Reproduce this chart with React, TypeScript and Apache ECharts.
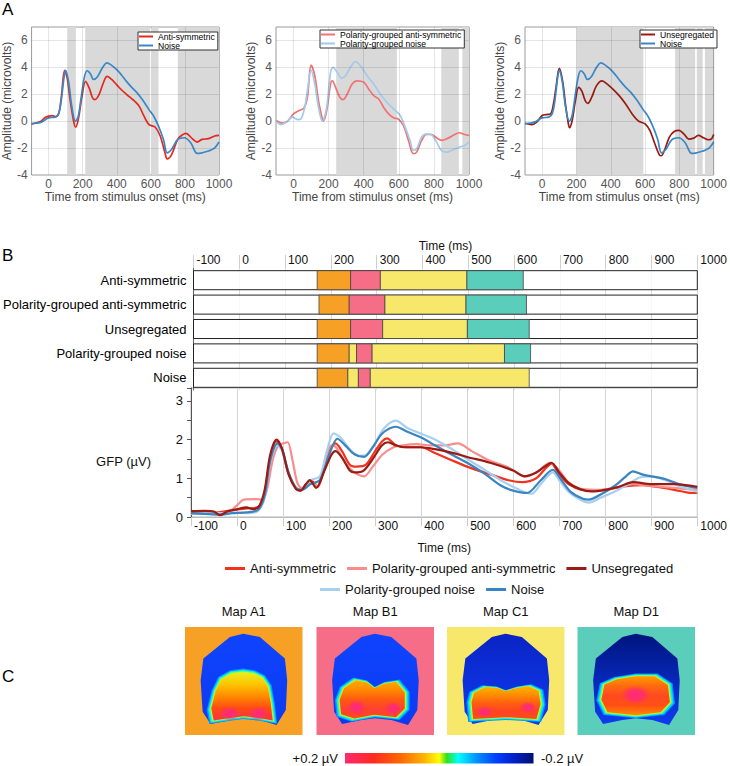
import React, { useEffect, useRef } from 'react';
import * as echarts from 'echarts';

const FONT = '"Liberation Sans", Arial, Helvetica, sans-serif';

// ---------- Panel A : ERP waveforms [time (ms), amplitude (µV)] ----------
const ERP_ANTI = [[-100,-0.2],[-70,-0.12],[-45,0.0],[-20,0.28],[0,0.37],[23,0.42],[41,0.32],[60,0.6],[75,1.85],[94,3.78],[109,3.2],[126,1.6],[145,0.12],[158,-0.44],[174,0.12],[196,1.85],[217,2.96],[240,2.4],[258,1.73],[272,1.6],[296,1.97],[321,2.84],[343,3.33],[370,3.1],[400,2.7],[430,2.3],[457,2.0],[485,1.7],[504,1.5],[532,1.1],[560,0.37],[589,-0.25],[626,-0.45],[655,-1.1],[683,-2.35],[696,-2.8],[721,-2.5],[758,-1.35],[787,-1.0],[806,-0.9],[843,-1.3],[872,-1.55],[900,-1.35],[938,-1.3],[975,-1.1],[1000,-1.05]];
const ERP_NOISE = [[-100,-0.2],[-70,-0.15],[-40,-0.05],[-15,0.15],[0,0.25],[41,0.32],[60,0.6],[75,1.6],[89,3.1],[100,3.78],[117,2.96],[136,1.1],[158,0.0],[174,0.37],[192,1.85],[211,3.33],[226,3.75],[245,3.53],[264,3.1],[287,3.3],[315,3.95],[343,4.33],[370,4.15],[400,3.83],[430,3.4],[457,2.96],[485,2.55],[513,2.2],[551,1.6],[589,0.86],[617,0.37],[645,-0.37],[674,-1.36],[696,-2.35],[721,-2.1],[758,-1.36],[796,-1.23],[834,-1.6],[872,-2.4],[900,-2.35],[938,-2.22],[975,-1.98],[1000,-1.55]];
const ERP_POL_ANTI = [[-100,0.05],[-62,-0.15],[-34,0.0],[0,0.54],[32,0.79],[60,0.99],[79,1.78],[100,4.17],[121,3.38],[142,1.53],[164,0.17],[170,0.0],[189,0.79],[211,2.77],[221,3.0],[240,2.5],[264,1.78],[283,1.6],[306,2.02],[334,2.77],[362,3.0],[400,2.9],[428,2.4],[457,1.9],[485,1.65],[513,1.04],[542,0.54],[570,0.25],[598,0.15],[626,-0.32],[655,-1.43],[683,-2.42],[702,-2.3],[730,-1.43],[758,-0.99],[787,-0.99],[815,-1.23],[843,-1.43],[881,-1.26],[919,-0.99],[947,-0.86],[975,-0.99],[1000,-1.06]];
const ERP_POL_NOISE = [[-100,0.0],[-72,-0.25],[-34,0.0],[-6,0.3],[23,0.12],[42,0.17],[64,1.04],[79,2.27],[100,3.8],[121,2.77],[142,1.04],[164,0.0],[189,1.04],[211,3.63],[226,4.0],[249,3.63],[274,3.2],[296,3.38],[325,4.0],[353,4.42],[381,4.12],[419,3.38],[457,2.77],[494,2.02],[532,1.41],[570,0.91],[608,0.42],[636,-0.44],[664,-1.43],[683,-2.17],[702,-2.05],[730,-1.19],[758,-0.94],[787,-1.01],[815,-1.56],[843,-2.17],[872,-2.3],[909,-2.12],[947,-1.93],[975,-1.8],[1000,-1.56]];
const ERP_UNSEG = [[-100,-0.15],[-60,-0.25],[-32,-0.07],[0,0.42],[25,0.49],[49,0.54],[66,1.28],[81,2.52],[100,3.93],[119,3.0],[138,1.04],[153,-0.2],[160,-0.49],[175,0.05],[194,1.53],[213,2.52],[232,2.22],[251,1.53],[266,1.33],[289,1.78],[317,2.64],[349,3.0],[383,2.72],[411,2.4],[449,1.9],[487,1.28],[525,0.54],[562,0.0],[600,-0.2],[628,-0.69],[657,-1.68],[685,-2.54],[694,-2.57],[713,-2.17],[742,-1.19],[770,-0.77],[798,-0.69],[826,-0.94],[855,-1.33],[883,-1.26],[911,-1.06],[940,-1.23],[968,-1.38],[987,-1.31],[1000,-0.99]];

// significant-difference windows (ms)
const SHADE_1 = [[109,160],[215,596],[605,645],[758,1000]];
const SHADE_2 = [[243,589],[842,942],[962,1000]];
const SHADE_3 = [[200,590],[775,892],[902,936],[949,998]];

const A_XGRID = [0,200,400,600,800,1000];
const A_YGRID = [-2,0,2,4,6];

// ---------- Panel B : microstate segments [start ms, end ms, map index] ----------
const CONDITIONS = ['Anti-symmetric','Polarity-grouped anti-symmetric','Unsegregated','Polarity-grouped noise','Noise'];
const SEG_ANTI = [[170,243,0],[243,308,1],[308,497,2],[497,620,3]];
const SEG_POL_ANTI = [[174,240,0],[240,318,1],[318,495,2],[495,627,3]];
const SEG_UNSEG = [[170,243,0],[243,313,1],[313,498,2],[498,633,3]];
const SEG_POL_NOISE = [[170,240,0],[240,256,2],[256,290,1],[290,579,2],[579,636,3]];
const SEG_NOISE = [[170,237,0],[237,260,2],[260,286,1],[286,633,2]];
const SEGMENTS = [SEG_ANTI, SEG_POL_ANTI, SEG_UNSEG, SEG_POL_NOISE, SEG_NOISE];

// ---------- Panel B : GFP [time (ms), µV] ----------
const GFP_ANTI = [[-100,0.12],[-70,0.1],[-40,0.12],[-10,0.18],[20,0.22],[45,0.25],[60,0.6],[72,1.5],[85,1.95],[95,1.85],[110,1.2],[125,0.8],[137,0.68],[150,0.85],[160,0.95],[175,0.78],[190,1.3],[205,1.8],[214,1.9],[228,1.7],[245,1.35],[260,1.3],[280,1.35],[300,1.7],[315,1.95],[326,2.03],[345,1.85],[370,1.8],[400,1.8],[430,1.65],[460,1.5],[500,1.3],[550,1.1],[590,0.95],[620,0.9],[650,1.0],[670,1.25],[683,1.38],[700,1.1],[720,0.85],[750,0.7],[780,0.68],[810,0.72],[850,0.8],[880,0.82],[910,0.78],[950,0.7],[980,0.63],[1000,0.62]];
const GFP_POL_ANTI = [[-100,0.1],[-60,0.08],[-20,0.12],[0,0.3],[15,0.45],[40,0.46],[55,0.45],[65,0.7],[78,1.5],[90,1.85],[100,1.9],[110,1.93],[120,1.5],[132,0.85],[145,0.72],[160,0.9],[175,0.8],[190,1.4],[205,1.85],[215,1.8],[235,1.4],[255,1.15],[276,1.05],[295,1.3],[315,1.6],[340,1.8],[360,1.85],[390,1.88],[420,1.85],[450,1.85],[480,1.9],[510,1.7],[550,1.45],[590,1.28],[625,1.05],[650,1.15],[680,1.4],[700,1.2],[720,0.9],[750,0.72],[790,0.7],[830,0.78],[860,0.85],[900,0.8],[950,0.75],[1000,0.7]];
const GFP_UNSEG = [[-100,0.15],[-70,0.16],[-50,0.14],[-37,0.05],[-20,0.15],[0,0.2],[20,0.25],[35,0.2],[48,0.28],[60,0.7],[72,1.6],[86,2.0],[98,1.75],[112,1.1],[128,0.72],[138,0.68],[150,0.85],[158,0.95],[172,0.75],[190,1.2],[205,1.6],[214,1.7],[230,1.5],[245,1.2],[256,1.15],[275,1.2],[295,1.5],[315,1.85],[328,1.93],[345,1.85],[365,1.8],[400,1.8],[430,1.75],[470,1.65],[500,1.55],[550,1.4],[600,1.2],[625,1.05],[650,1.15],[668,1.3],[683,1.4],[700,1.15],[720,0.88],[745,0.72],[770,0.66],[800,0.7],[830,0.78],[860,0.9],[900,0.85],[950,0.85],[1000,0.78]];
const GFP_POL_NOISE = [[-100,0.08],[-70,0.1],[-40,0.1],[-10,0.12],[20,0.1],[45,0.15],[60,0.5],[72,1.4],[88,1.85],[98,1.7],[112,1.1],[128,0.75],[140,0.72],[160,0.95],[180,1.05],[195,1.7],[210,2.16],[225,2.05],[245,1.75],[265,1.58],[280,1.6],[300,1.9],[320,2.3],[345,2.49],[370,2.3],[400,2.15],[430,2.0],[460,1.8],[500,1.5],[540,1.2],[580,0.9],[610,0.72],[640,0.6],[660,0.85],[686,1.15],[700,0.95],[720,0.65],[745,0.45],[765,0.37],[790,0.5],[820,0.65],[850,0.85],[875,1.02],[900,1.05],[930,0.95],[960,0.8],[1000,0.65]];
const GFP_NOISE = [[-100,0.1],[-70,0.08],[-40,0.06],[-10,0.1],[20,0.12],[45,0.18],[60,0.55],[72,1.45],[88,1.9],[98,1.75],[112,1.15],[128,0.75],[140,0.7],[160,0.85],[180,0.95],[200,1.6],[218,2.02],[235,1.85],[255,1.62],[276,1.55],[295,1.8],[315,2.15],[345,2.33],[370,2.2],[400,2.05],[430,1.85],[460,1.65],[500,1.4],[540,1.1],[575,0.8],[600,0.68],[630,0.62],[660,0.95],[686,1.22],[705,0.95],[725,0.65],[750,0.48],[765,0.45],[790,0.58],[820,0.8],[845,1.05],[860,1.18],[880,1.1],[900,1.05],[930,0.98],[960,0.85],[1000,0.75]];

// ---------- Panel C : maps ----------
const MAP_NAMES = ['Map A1','Map B1','Map C1','Map D1'];
const MAP_COLORS = ['#f6a126','#f66d87','#f7e86c','#5bcdbb'];
const COLORBAR_LABELS = ['+0.2 µV','-0.2 µV'];

const C_A = { anti:'#e3281e', noise:'#3a88c6', polAnti:'#ef7373', polNoise:'#a3caeb', unseg:'#981a12' };
const C_G = { anti:'#f0321e', polAnti:'#f78d8d', unseg:'#9a1b12', polNoise:'#a9cfee', noise:'#3a84c1' };

// head outline & topography shapes (normalised to map square)
const HEAD = [[0.382,0.092],[0.496,0.062],[0.637,0.092],[0.850,0.292],[0.870,0.492],[0.858,0.769],[0.779,0.908],[0.637,0.862],[0.496,0.846],[0.382,0.862],[0.218,0.898],[0.150,0.785],[0.133,0.492],[0.156,0.292]];
const WARM = [
  [[0.207,0.898],[0.184,0.769],[0.227,0.585],[0.283,0.462],[0.382,0.40],[0.496,0.385],[0.595,0.40],[0.680,0.446],[0.737,0.538],[0.765,0.708],[0.785,0.898],[0.637,0.868],[0.496,0.852],[0.382,0.868]],
  [[0.170,0.831],[0.156,0.677],[0.198,0.554],[0.312,0.468],[0.425,0.492],[0.496,0.554],[0.581,0.508],[0.708,0.486],[0.793,0.600],[0.793,0.769],[0.708,0.862],[0.496,0.837],[0.297,0.877]],
  [[0.18,0.88],[0.165,0.70],[0.19,0.60],[0.30,0.54],[0.42,0.55],[0.50,0.585],[0.60,0.55],[0.72,0.53],[0.82,0.58],[0.84,0.72],[0.80,0.88],[0.50,0.86]],
  [[0.22,0.815],[0.16,0.68],[0.19,0.52],[0.312,0.462],[0.495,0.43],[0.682,0.43],[0.81,0.523],[0.83,0.708],[0.74,0.815],[0.495,0.846]],
];
const SPOTS = [
  [[0.382,0.80,0.09,0.065],[0.623,0.80,0.09,0.065]],
  [[0.34,0.745,0.085,0.075],[0.652,0.754,0.075,0.065]],
  [[0.32,0.785,0.075,0.055],[0.688,0.745,0.075,0.055]],
  [[0.495,0.63,0.13,0.09]],
];
const HEAD_GRAD = [
  ['#0f44ff','#0c3af0'],
  ['#0f44ff','#0c3af0'],
  ['#0a24c4','#0e3cf0'],
  ['#00147e','#0e3cf0'],
];
const WARM_GRAD = [
  ['#e6f01e','#ffc400','#ff8a00','#ff4a14','#ff3048'],
  ['#ffae00','#ff8a00','#ff5a12','#ff4030','#ff4a20'],
  ['#ffb400','#ff9000','#ff6210','#ff4420','#ff4a20'],
  ['#ff9c00','#ff6a10','#ff4a20','#ff5014','#ff8c00'],
];

const MAP_X = [185, 316.5, 447, 577.5];
const MAP_Y = 627;
const MAP_W = 117.5;
const MAP_H = 108;

function toAbs(pts: number[][], i: number) {
  return pts.map(([u, v]) => [MAP_X[i] + u * MAP_W, MAP_Y + v * MAP_H]);
}
function shrink(pts: number[][], s: number) {
  const cx = pts.reduce((a, p) => a + p[0], 0) / pts.length;
  const cy = pts.reduce((a, p) => a + p[1], 0) / pts.length;
  return pts.map(([x, y]) => [cx + (x - cx) * s, cy + (y - cy) * s]);
}

function mapElements(i: number) {
  const els: any[] = [];
  els.push({ type: 'rect', shape: { x: MAP_X[i], y: MAP_Y, width: MAP_W, height: MAP_H }, style: { fill: MAP_COLORS[i] } });
  els.push({ type: 'polygon', shape: { points: toAbs(HEAD, i) }, style: { fill: new echarts.graphic.LinearGradient(0, 0, 0, 1, [{ offset: 0, color: HEAD_GRAD[i][0] }, { offset: 1, color: HEAD_GRAD[i][1] }]) } });
  const warm = toAbs(WARM[i], i);
  const rings = [[1.0, '#0a8cff'], [0.965, '#00dcff'], [0.93, '#3cff9a'], [0.9, '#c8f51e']];
  rings.forEach(([s, c]) => els.push({ type: 'polygon', shape: { points: shrink(warm, s as number) }, style: { fill: c } }));
  const g = WARM_GRAD[i];
  els.push({ type: 'polygon', shape: { points: shrink(warm, 0.87) }, style: { fill: new echarts.graphic.LinearGradient(0, 0, 0, 1, g.map((c, k) => ({ offset: k / (g.length - 1), color: c }))) } });
  SPOTS[i].forEach(([u, v, rx, ry]) => els.push({ type: 'ellipse', shape: { cx: MAP_X[i] + u * MAP_W, cy: MAP_Y + v * MAP_H, rx: rx * MAP_W, ry: ry * MAP_H }, style: { fill: new echarts.graphic.RadialGradient(0.5, 0.5, 0.5, [{ offset: 0, color: 'rgba(255,40,130,1)' }, { offset: 0.55, color: 'rgba(255,45,110,0.85)' }, { offset: 1, color: 'rgba(255,60,60,0)' }]) } }));
  els.push({ type: 'text', x: MAP_X[i] + MAP_W / 2, y: 611, style: { text: MAP_NAMES[i], font: `13px ${FONT}`, fill: '#111', align: 'center', verticalAlign: 'middle' } });
  return els;
}

function buildOption() {
  const A_LEFT = [26, 276, 525];
  const A_WIDTH = [193, 193, 194];
  const grids: any[] = A_LEFT.map((l, k) => ({ left: l, top: 27, width: A_WIDTH[k], height: 148, show: true, borderColor: '#9a9a9a', borderWidth: 1 }));
  grids.push({ left: 191, top: 268, width: 508, height: 122 });
  grids.push({ left: 191, top: 388, width: 508, height: 129, show: true, borderColor: '#b5b5b5', borderWidth: 1 });

  const xAxes: any[] = [0, 1, 2].map(i => ({
    gridIndex: i, type: 'value', min: -100, max: 1000, interval: 100,
    axisLine: { show: false, onZero: false }, axisTick: { show: false }, splitLine: { show: false },
    axisLabel: { fontSize: 12, color: '#555', fontFamily: FONT, margin: 3, formatter: (v: number) => (v >= 0 && v % 200 === 0 ? String(v) : '') },
    name: 'Time from stimulus onset (ms)', nameLocation: 'middle', nameGap: 13,
    nameTextStyle: { fontSize: 12, color: '#444', fontFamily: FONT },
  }));
  const yAxes: any[] = [0, 1, 2].map(i => ({
    gridIndex: i, type: 'value', min: -4, max: 7, interval: 2,
    axisLine: { show: false, onZero: false }, axisTick: { show: false }, splitLine: { show: false },
    axisLabel: { fontSize: 12, color: '#555', fontFamily: FONT, margin: 4, formatter: (v: number) => (v > 6.5 ? '' : String(v)) },
    name: 'Amplitude (microvolts)', nameLocation: 'middle', nameGap: 14,
    nameTextStyle: { fontSize: 12, color: '#444', fontFamily: FONT },
  }));
  // bars panel
  xAxes.push({
    gridIndex: 3, type: 'value', position: 'top', min: -100, max: 1000, interval: 100,
    axisLine: { show: false, onZero: false }, axisTick: { show: true, length: 13, lineStyle: { color: '#cfcfcf' } },
    splitLine: { show: true, lineStyle: { color: '#dadada' } },
    axisLabel: { align: 'left', margin: 2, padding: [0, 0, 0, 3], fontSize: 12, color: '#111', fontFamily: FONT, formatter: (v: number) => String(v) },
    name: 'Time (ms)', nameLocation: 'middle', nameGap: 16, nameTextStyle: { fontSize: 12, color: '#111', fontFamily: FONT },
  });
  yAxes.push({
    gridIndex: 3, type: 'category', data: CONDITIONS, inverse: true,
    axisLine: { show: true, onZero: false, lineStyle: { color: '#666' } }, axisTick: { show: false }, splitLine: { show: false },
    axisLabel: { fontSize: 13, color: '#000', fontFamily: FONT, margin: 7 },
  });
  // GFP panel
  xAxes.push({
    gridIndex: 4, type: 'value', min: -100, max: 1000, interval: 100,
    axisLine: { show: true, onZero: false, lineStyle: { color: '#bbb' } }, axisTick: { show: true, length: 9, lineStyle: { color: '#ccc' } },
    splitLine: { show: true, lineStyle: { color: '#d5d5d5' } },
    axisLabel: { align: 'left', margin: 3, padding: [0, 0, 0, 3], fontSize: 12, color: '#111', fontFamily: FONT, formatter: (v: number) => String(v) },
    name: 'Time (ms)', nameLocation: 'middle', nameGap: 25, nameTextStyle: { fontSize: 12, color: '#111', fontFamily: FONT },
  });
  yAxes.push({
    gridIndex: 4, type: 'value', min: 0, max: 3.33, interval: 0.5,
    axisLine: { show: true, onZero: false, lineStyle: { color: '#555' } }, axisTick: { show: true, length: 4, lineStyle: { color: '#555' } },
    splitLine: { show: false },
    axisLabel: { fontSize: 13, color: '#111', fontFamily: FONT, margin: 8, formatter: (v: number) => (Number.isInteger(v) ? String(v) : '') },
  });

  const series: any[] = [];
  const shades = [SHADE_1, SHADE_2, SHADE_3];
  const curves: any[][] = [
    [['Anti-symmetric', ERP_ANTI, C_A.anti], ['Noise', ERP_NOISE, C_A.noise]],
    [['Polarity-grouped anti-symmetric', ERP_POL_ANTI, C_A.polAnti], ['Polarity-grouped noise', ERP_POL_NOISE, C_A.polNoise]],
    [['Unsegregated', ERP_UNSEG, C_A.unseg], ['Noise', ERP_NOISE, C_A.noise]],
  ];
  [0, 1, 2].forEach(i => {
    series.push({
      type: 'line', xAxisIndex: i, yAxisIndex: i, data: [], silent: true, z: 1,
      markArea: { silent: true, itemStyle: { color: '#d9d9d9' }, data: shades[i].map(([a, b]) => [{ xAxis: a }, { xAxis: b }]) },
    });
    series.push({
      type: 'line', xAxisIndex: i, yAxisIndex: i, data: [], silent: true, z: 2,
      markLine: {
        silent: true, symbol: ['none', 'none'], label: { show: false },
        lineStyle: { color: 'rgba(0,0,0,0.1)', type: 'solid', width: 1 },
        emphasis: { disabled: true },
        data: [...A_XGRID.map(v => ({ xAxis: v })), ...A_YGRID.map(v => ({ yAxis: v }))],
      },
    });
    curves[i].forEach(([name, data, color]) => series.push({
      type: 'line', name, xAxisIndex: i, yAxisIndex: i, data, showSymbol: false, smooth: 0.35, z: 3,
      lineStyle: { width: 1.7, color }, itemStyle: { color }, emphasis: { disabled: true },
    }));
  });

  // bars
  const barItems: number[][] = [];
  SEGMENTS.forEach((segs, r) => {
    barItems.push([r, -100, 1000, -1]);
    segs.forEach(([s, e, m]) => barItems.push([r, s, e, m]));
  });
  series.push({
    type: 'custom', xAxisIndex: 3, yAxisIndex: 3, data: barItems, encode: { x: [1, 2], y: 0 }, silent: true,
    renderItem: (_p: any, api: any) => {
      const row = api.value(0), s = api.value(1), e = api.value(2), m = api.value(3);
      const p0 = api.coord([s, row]);
      const p1 = api.coord([e, row]);
      const h = api.size([0, 1])[1] * 0.78;
      return {
        type: 'rect', shape: { x: p0[0], y: p0[1] - h / 2, width: p1[0] - p0[0], height: h },
        style: { fill: m < 0 ? 'rgba(255,255,255,0.8)' : MAP_COLORS[m], stroke: m < 0 ? '#222' : '#444', lineWidth: m < 0 ? 1 : 0.8 },
      };
    },
  });

  const gfp: any[] = [
    ['Anti-symmetric', GFP_ANTI, C_G.anti],
    ['Polarity-grouped anti-symmetric', GFP_POL_ANTI, C_G.polAnti],
    ['Polarity-grouped noise', GFP_POL_NOISE, C_G.polNoise],
    ['Noise', GFP_NOISE, C_G.noise],
    ['Unsegregated', GFP_UNSEG, C_G.unseg],
  ];
  gfp.forEach(([name, data, color]) => series.push({
    type: 'line', name, xAxisIndex: 4, yAxisIndex: 4, data, showSymbol: false, smooth: 0.3, z: 3,
    lineStyle: { width: 2.2, color }, itemStyle: { color }, emphasis: { disabled: true },
  }));

  const legA = (left: number, top: number, items: [string, string][]) => ({
    left, top, orient: 'vertical', selectedMode: false, z: 10,
    data: items.map(([name, color]) => ({ name, itemStyle: { color } })),
    icon: 'rect', itemWidth: 14, itemHeight: 2, itemGap: 0, padding: [0, 3, 0, 1],
    backgroundColor: '#fff', borderColor: '#333', borderWidth: 1,
    textStyle: { fontSize: 8.6, color: '#000', fontFamily: FONT, lineHeight: 9 },
  });
  const legG = (left: number, top: number, items: [string, string][]) => ({
    left, top, orient: 'horizontal', selectedMode: false,
    data: items.map(([name, color]) => ({ name, itemStyle: { color } })),
    icon: 'rect', itemWidth: 20, itemHeight: 3, itemGap: 11, padding: 0,
    textStyle: { fontSize: 13, color: '#111', fontFamily: FONT },
  });
  const legend = [
    legA(138, 32, [['Anti-symmetric', C_A.anti], ['Noise', C_A.noise]]),
    legA(320, 30, [['Polarity-grouped anti-symmetric', C_A.polAnti], ['Polarity-grouped noise', C_A.polNoise]]),
    legA(640, 30, [['Unsegregated', C_A.unseg], ['Noise', C_A.noise]]),
    legG(225, 562, [['Anti-symmetric', C_G.anti], ['Polarity-grouped anti-symmetric', C_G.polAnti], ['Unsegregated', C_G.unseg]]),
    legG(320, 583, [['Polarity-grouped noise', C_G.polNoise], ['Noise', C_G.noise]]),
  ];

  const elements: any[] = [];
  [['A', 9], ['B', 255], ['C', 676]].forEach(([t, y]) => elements.push({
    type: 'text', x: 2, y: y as number, style: { text: t as string, font: `17px ${FONT}`, fill: '#000', verticalAlign: 'middle' },
  }));
  elements.push({ type: 'text', x: 151, y: 461, style: { text: 'GFP (µV)', font: `13px ${FONT}`, fill: '#111', align: 'right', verticalAlign: 'middle' } });
  [0, 1, 2, 3].forEach(i => elements.push(...mapElements(i)));
  elements.push({
    type: 'rect', shape: { x: 345, y: 753, width: 188.5, height: 10.5 },
    style: {
      fill: new echarts.graphic.LinearGradient(0, 0, 1, 0, [
        { offset: 0, color: '#ff2a6e' }, { offset: 0.15, color: '#ff2a20' }, { offset: 0.3, color: '#ff6a00' },
        { offset: 0.42, color: '#ffb400' }, { offset: 0.5, color: '#ffff00' }, { offset: 0.54, color: '#30e020' },
        { offset: 0.6, color: '#00ffff' }, { offset: 0.7, color: '#0090ff' }, { offset: 0.8, color: '#0040ff' },
        { offset: 0.9, color: '#0020c8' }, { offset: 1, color: '#001070' },
      ]),
    },
  });
  elements.push({ type: 'text', x: 338, y: 758.5, style: { text: COLORBAR_LABELS[0], font: `13px ${FONT}`, fill: '#111', align: 'right', verticalAlign: 'middle' } });
  elements.push({ type: 'text', x: 541, y: 758.5, style: { text: COLORBAR_LABELS[1], font: `13px ${FONT}`, fill: '#111', align: 'left', verticalAlign: 'middle' } });

  return {
    animation: false,
    backgroundColor: '#fff',
    textStyle: { fontFamily: FONT },
    grid: grids,
    xAxis: xAxes,
    yAxis: yAxes,
    legend,
    series,
    graphic: { elements },
  };
}

export default function App() {
  const ref = useRef<HTMLDivElement>(null);
  useEffect(() => {
    const chart = echarts.init(ref.current!, null, { renderer: 'svg' });
    chart.setOption(buildOption() as any);
    return () => chart.dispose();
  }, []);
  return <div ref={ref} style={{ position: 'fixed', left: 0, top: 0, width: 730, height: 766, background: '#fff' }} />;
}
